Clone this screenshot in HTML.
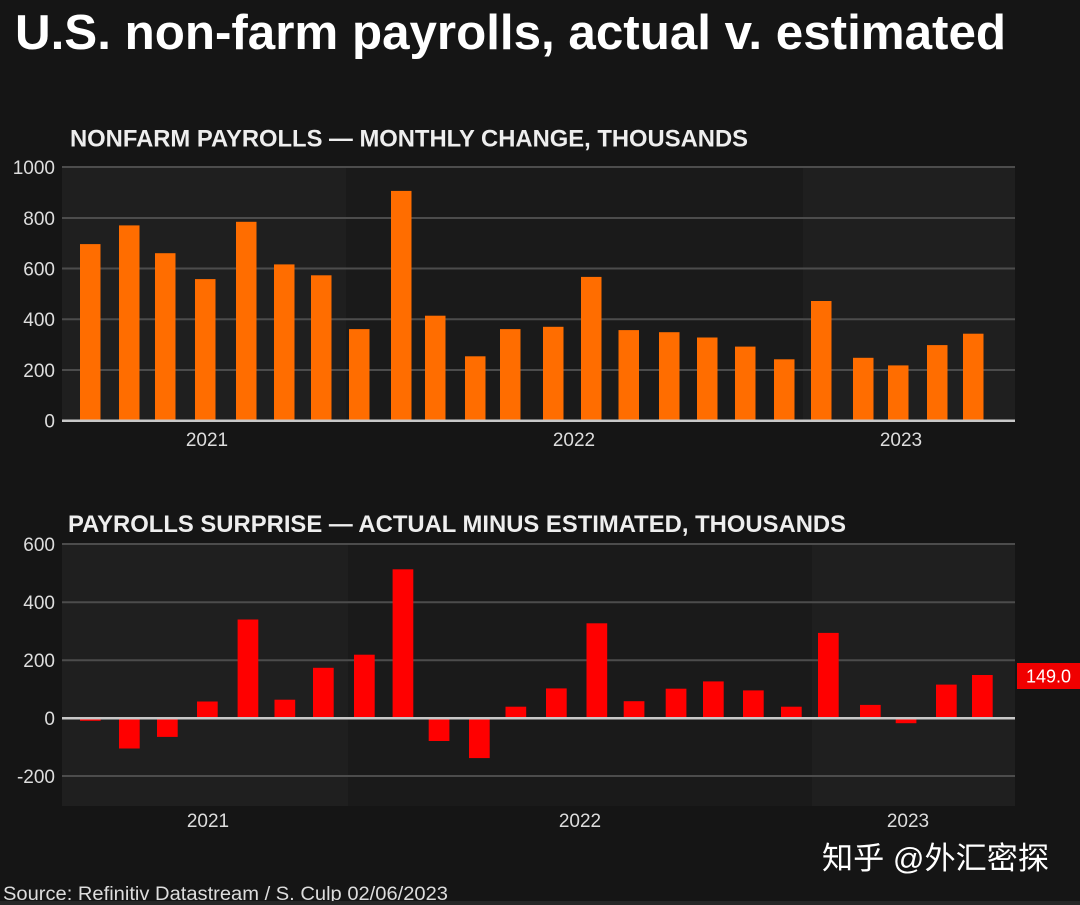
<!DOCTYPE html>
<html>
<head>
<meta charset="utf-8">
<style>
  html,body{margin:0;padding:0;background:#151515;}
  svg{display:block;}
  text{font-family:"Liberation Sans","Noto Sans CJK SC",sans-serif;}
</style>
</head>
<body>
<svg width="1080" height="905" viewBox="0 0 1080 905" xmlns="http://www.w3.org/2000/svg">
  <rect x="0" y="0" width="1080" height="905" fill="#151515"/>

  <!-- Title -->
  <text x="15" y="49" font-size="49" font-weight="bold" fill="#ffffff" textLength="991" lengthAdjust="spacingAndGlyphs">U.S. non-farm payrolls, actual v. estimated</text>

  <!-- ===== TOP CHART ===== -->
  <text x="70" y="146.5" font-size="24" font-weight="bold" fill="#eeeeee" textLength="678" lengthAdjust="spacingAndGlyphs">NONFARM PAYROLLS — MONTHLY CHANGE, THOUSANDS</text>

  <!-- shading -->
  <rect x="62" y="167" width="284" height="254" fill="#1f1f1f"/>
  <rect x="346" y="167" width="457" height="254" fill="#1a1a1a"/>
  <rect x="803" y="167" width="212" height="254" fill="#1f1f1f"/>

  <!-- gridlines -->
  <g stroke="#4c4c4c" stroke-width="2">
    <line x1="62" y1="167" x2="1015" y2="167"/>
    <line x1="62" y1="218" x2="1015" y2="218"/>
    <line x1="62" y1="268.5" x2="1015" y2="268.5"/>
    <line x1="62" y1="319.2" x2="1015" y2="319.2"/>
    <line x1="62" y1="370" x2="1015" y2="370"/>
  </g>

  <!-- y labels -->
  <g font-size="19" fill="#dddddd" text-anchor="end">
    <text x="55" y="174">1000</text>
    <text x="55" y="225">800</text>
    <text x="55" y="275.5">600</text>
    <text x="55" y="326">400</text>
    <text x="55" y="377">200</text>
    <text x="55" y="427.5">0</text>
  </g>

  <!-- bars top -->
  <g fill="#ff6d00">
    <rect x="80" y="244.1" width="20.5" height="176.6"/>
    <rect x="119" y="225.4" width="20.5" height="195.3"/>
    <rect x="155" y="253.2" width="20.5" height="167.5"/>
    <rect x="195" y="279.1" width="20.5" height="141.6"/>
    <rect x="236" y="221.8" width="20.5" height="198.9"/>
    <rect x="274" y="264.4" width="20.5" height="156.3"/>
    <rect x="311" y="275.3" width="20.5" height="145.4"/>
    <rect x="349" y="329.1" width="20.5" height="91.6"/>
    <rect x="391" y="190.9" width="20.5" height="229.8"/>
    <rect x="425" y="315.7" width="20.5" height="105"/>
    <rect x="465" y="356.3" width="20.5" height="64.4"/>
    <rect x="500" y="329.1" width="20.5" height="91.6"/>
    <rect x="543" y="326.8" width="20.5" height="93.9"/>
    <rect x="581" y="276.9" width="20.5" height="143.8"/>
    <rect x="618.5" y="330.1" width="20.5" height="90.6"/>
    <rect x="659" y="332.2" width="20.5" height="88.5"/>
    <rect x="697" y="337.5" width="20.5" height="83.2"/>
    <rect x="735" y="346.6" width="20.5" height="74.1"/>
    <rect x="774" y="359.3" width="20.5" height="61.4"/>
    <rect x="811" y="301" width="20.5" height="119.7"/>
    <rect x="853" y="357.8" width="20.5" height="62.9"/>
    <rect x="888" y="365.4" width="20.5" height="55.3"/>
    <rect x="927" y="345.1" width="20.5" height="75.6"/>
    <rect x="963" y="333.7" width="20.5" height="87"/>
  </g>
  <line x1="62" y1="420.7" x2="1015" y2="420.7" stroke="#c8c8c8" stroke-width="2.5"/>

  <g font-size="19" fill="#dddddd" text-anchor="middle">
    <text x="207" y="446">2021</text>
    <text x="574" y="446">2022</text>
    <text x="901" y="446">2023</text>
  </g>

  <!-- ===== BOTTOM CHART ===== -->
  <text x="68" y="532" font-size="24" font-weight="bold" fill="#eeeeee" textLength="778" lengthAdjust="spacingAndGlyphs">PAYROLLS SURPRISE — ACTUAL MINUS ESTIMATED, THOUSANDS</text>

  <rect x="62" y="544" width="286" height="262" fill="#1f1f1f"/>
  <rect x="348" y="544" width="464" height="262" fill="#1a1a1a"/>
  <rect x="812" y="544" width="203" height="262" fill="#1f1f1f"/>

  <g stroke="#4c4c4c" stroke-width="2">
    <line x1="62" y1="544" x2="1015" y2="544"/>
    <line x1="62" y1="602.2" x2="1015" y2="602.2"/>
    <line x1="62" y1="660.2" x2="1015" y2="660.2"/>
    <line x1="62" y1="776" x2="1015" y2="776"/>
  </g>

  <g font-size="19" fill="#dddddd" text-anchor="end">
    <text x="55" y="551">600</text>
    <text x="55" y="609">400</text>
    <text x="55" y="667">200</text>
    <text x="55" y="725">0</text>
    <text x="55" y="783">-200</text>
  </g>

  <g fill="#ff0000">
    <rect x="80" y="718.3" width="20.7" height="2.5"/>
    <rect x="119" y="718.3" width="20.7" height="30.2"/>
    <rect x="157" y="718.3" width="20.7" height="18.6"/>
    <rect x="197" y="701.5" width="20.7" height="16.8"/>
    <rect x="237.6" y="619.5" width="20.7" height="98.8"/>
    <rect x="274.5" y="699.7" width="20.7" height="18.6"/>
    <rect x="313" y="667.8" width="20.7" height="50.5"/>
    <rect x="354" y="654.7" width="20.7" height="63.6"/>
    <rect x="392.6" y="569.3" width="20.7" height="149"/>
    <rect x="428.7" y="718.3" width="20.7" height="22.7"/>
    <rect x="469" y="718.3" width="20.7" height="39.8"/>
    <rect x="505.5" y="706.7" width="20.7" height="11.6"/>
    <rect x="546" y="688.4" width="20.7" height="29.9"/>
    <rect x="586.5" y="623.3" width="20.7" height="95"/>
    <rect x="623.7" y="701.2" width="20.7" height="17.1"/>
    <rect x="665.7" y="688.7" width="20.7" height="29.6"/>
    <rect x="703" y="681.4" width="20.7" height="36.9"/>
    <rect x="743" y="690.4" width="20.7" height="27.9"/>
    <rect x="781" y="706.7" width="20.7" height="11.6"/>
    <rect x="818" y="632.9" width="20.7" height="85.4"/>
    <rect x="860" y="704.9" width="20.7" height="13.4"/>
    <rect x="895.7" y="718.3" width="20.7" height="4.9"/>
    <rect x="936" y="684.6" width="20.7" height="33.7"/>
    <rect x="972" y="675" width="20.7" height="43.3"/>
  </g>
  <line x1="62" y1="718.3" x2="1015" y2="718.3" stroke="#c8c8c8" stroke-width="2.5"/>

  <!-- value label -->
  <rect x="1017" y="663" width="63" height="26" fill="#f00000"/>
  <text x="1048.5" y="682.5" font-size="18" fill="#ffffff" text-anchor="middle">149.0</text>

  <g font-size="19" fill="#dddddd" text-anchor="middle">
    <text x="208" y="827">2021</text>
    <text x="580" y="827">2022</text>
    <text x="908" y="827">2023</text>
  </g>

  <!-- watermark -->
  <text x="822" y="869" font-size="31" fill="#ffffff" textLength="227" lengthAdjust="spacingAndGlyphs" font-family="'Noto Sans CJK SC', sans-serif">知乎 @外汇密探</text>

  <!-- source -->
  <text x="3" y="900" font-size="19" fill="#dddddd" textLength="445" lengthAdjust="spacingAndGlyphs">Source: Refinitiv Datastream / S. Culp 02/06/2023</text>
  <rect x="0" y="901" width="1080" height="4" fill="#262626"/>
</svg>
</body>
</html>
